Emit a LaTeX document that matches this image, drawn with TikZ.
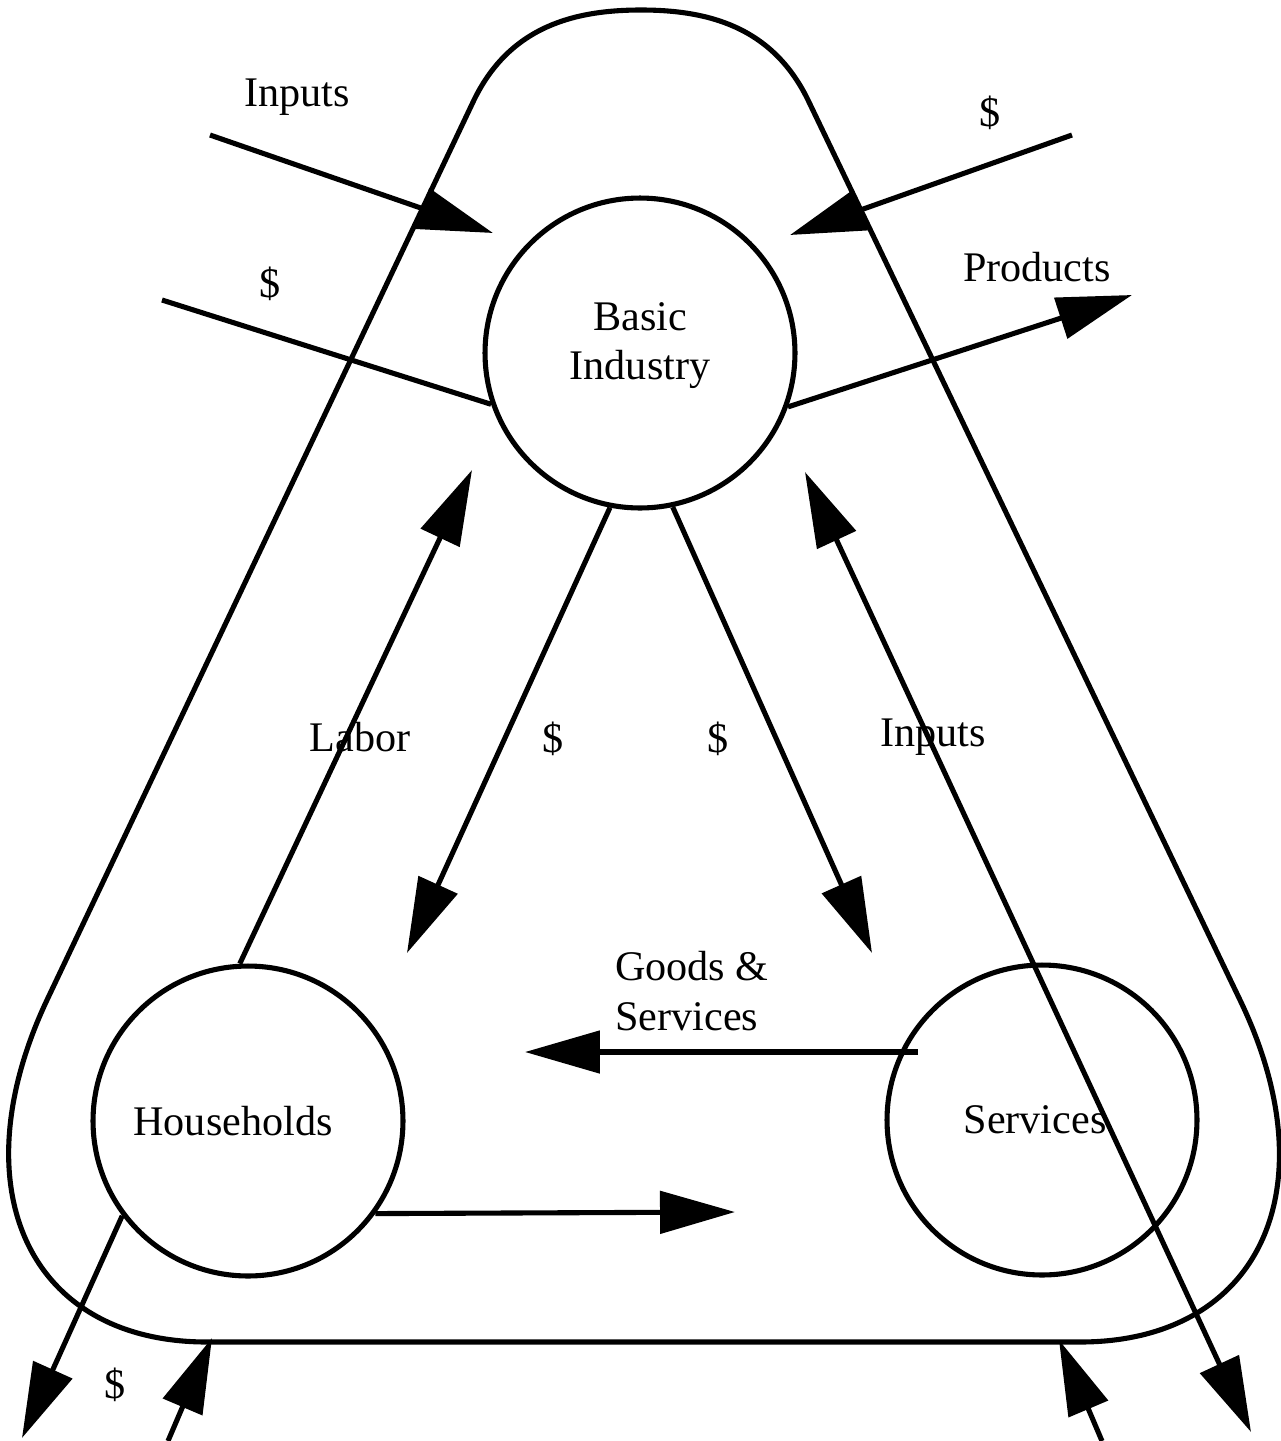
\documentclass[tikz,border=0pt]{standalone}
\usepackage{fontspec}
\setmainfont{Liberation Serif}
\usetikzlibrary{arrows.meta}

\begin{document}
\begin{tikzpicture}[x=0.02cm,y=-0.02cm,line width=2.9pt,
  bigtip/.tip={Triangle[length=1.5cm,width=0.84cm]},
  every node/.style={font=\fontsize{24}{28}\selectfont},
  sector/.style={draw,circle,minimum size=6.2cm,inner sep=0pt,align=center}]
\useasboundingbox (0,0) rectangle (1281,1441);
\draw (207,1342) -- (1080,1342) .. controls (1259,1342) and (1331,1189) .. (1240,1000)
  -- (808,100) .. controls (772,26) and (707,10) .. (641,10)
  .. controls (575,10) and (510,26) .. (474,100)
  -- (47,1000) .. controls (-42,1189) and (29,1342) .. (207,1342) -- cycle;
\node[sector,text depth=14pt] (bi) at (640,353) {Basic\\Industry};
\node[sector] (hh) at (248,1121) {Households\hspace*{0.6cm}};
\node[sector] (sv) at (1042,1120) {Services\hspace*{0.28cm}};
\coordinate (intail) at (210,135);
\coordinate (intip) at (493,233);
\coordinate (paytail) at (1072,135);
\coordinate (paytip) at (790,235);
\coordinate (paystart) at (162,300);
\coordinate (prodtip) at (1132,295);
\coordinate (labtip) at (472,470);
\coordinate (hhpay) at (407,953);
\coordinate (svpay) at (872,953);
\coordinate (svin) at (805,472);
\coordinate (svout) at (1251,1432);
\coordinate (gsstart) at (918,1052);
\coordinate (gstip) at (525,1052);
\coordinate (hhtip) at (735,1212);
\coordinate (hhout) at (22,1438);
\coordinate (lin) at (168,1441);
\coordinate (lintip) at (212,1338);
\coordinate (rin) at (1102,1441);
\coordinate (rintip) at (1059,1340);
\draw[-bigtip] (intail) -- (intip);
\draw[-bigtip] (paytail) -- (paytip);
\draw (paystart) -- (bi.199.5);
\draw[-bigtip] (bi.340.5) -- (prodtip);
\draw[-bigtip] (hh.93) -- (labtip);
\draw[-bigtip] (bi.259) -- (hhpay);
\draw[-bigtip] (bi.282) -- (svpay);
\draw[bigtip-bigtip] (svin) -- (svout);
\draw[-bigtip] (gsstart) -- (gstip);
\draw[-bigtip] (hh.-36) -- (hhtip);
\draw[-bigtip] (hh.217) -- (hhout);
\draw[-bigtip] (lin) -- (lintip);
\draw[-bigtip] (rin) -- (rintip);
\node (inbi) at (297,97) {Inputs};
\node (paybi) at (990,113) {\$};
\node (paysup) at (270,284) {\$};
\node (prod) at (1037,267) {Products};
\node (labor) at (360,737) {Labor};
\node (payhh) at (553,739) {\$};
\node (paysv) at (718,739) {\$};
\node (insv) at (933,737) {Inputs};
\node[align=left] (goods) at (692,991) {Goods \&\\Services};
\node (payout) at (115,1385) {\$};
\end{tikzpicture}
\end{document}
